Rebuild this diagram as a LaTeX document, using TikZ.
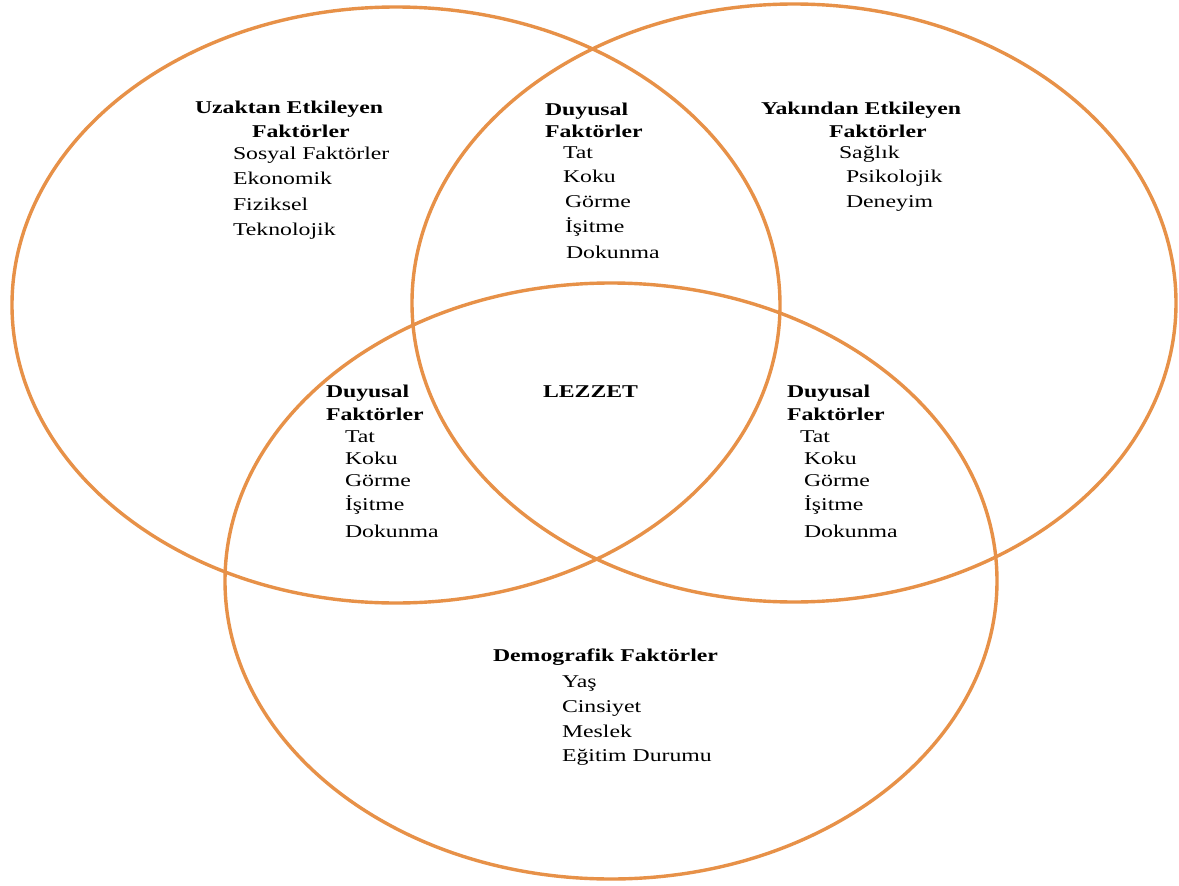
\documentclass[tikz,border=0pt]{standalone}
\usepackage{fontspec}
\setmainfont{Liberation Serif}[FakeStretch=1.32]
\definecolor{ringc}{RGB}{231,145,72}
\tikzset{
  ring/.style={draw=ringc, line width=3.4pt},
  txt/.style={anchor=base west, inner sep=0pt, outer sep=0pt, font=\fontsize{18}{22}\selectfont, text=black},
  hdr/.style={txt, font=\fontsize{18}{22}\selectfont\bfseries}
}
\begin{document}
\begin{tikzpicture}[x=1pt,y=-1pt]
\useasboundingbox[fill=white] (0,0) rectangle (1179,886);
% circles
\draw[ring] (396,305) ellipse [x radius=384pt, y radius=298pt];
\draw[ring] (794,303) ellipse [x radius=382pt, y radius=299pt];
\draw[ring] (611,581) ellipse [x radius=386pt, y radius=298pt];
% upper left
\node[hdr] (ulh1) at (195,113) {Uzaktan Etkileyen};
\node[hdr] (ulh2) at (252,137) {Faktörler};
\node[txt] (ul1) at (233,159) {Sosyal Faktörler};
\node[txt] (ul2) at (233,184) {Ekonomik};
\node[txt] (ul3) at (233,210) {Fiziksel};
\node[txt] (ul4) at (233,235) {Teknolojik};
% top middle
\node[hdr] (tmh1) at (545,115) {Duyusal};
\node[hdr] (tmh2) at (545,137) {Faktörler};
\node[txt] (tm1) at (563,158) {Tat};
\node[txt] (tm2) at (563,182) {Koku};
\node[txt] (tm3) at (565,207) {Görme};
\node[txt] (tm4) at (565,232) {İşitme};
\node[txt] (tm5) at (566,258) {Dokunma};
% upper right
\node[hdr] (urh1) at (761,114) {Yakından Etkileyen};
\node[hdr] (urh2) at (829,137) {Faktörler};
\node[txt] (ur1) at (839,158) {Sağlık};
\node[txt] (ur2) at (846,182) {Psikolojik};
\node[txt] (ur3) at (846,207) {Deneyim};
% middle left
\node[hdr] (mlh1) at (326,397) {Duyusal};
\node[hdr] (mlh2) at (326,420) {Faktörler};
\node[txt] (ml1) at (345,442) {Tat};
\node[txt] (ml2) at (345,464) {Koku};
\node[txt] (ml3) at (345,486) {Görme};
\node[txt] (ml4) at (345,510) {İşitme};
\node[txt] (ml5) at (345,537) {Dokunma};
% center
\node[hdr] (lez) at (543,397) {LEZZET};
% middle right
\node[hdr] (mrh1) at (787,397) {Duyusal};
\node[hdr] (mrh2) at (787,420) {Faktörler};
\node[txt] (mr1) at (800,442) {Tat};
\node[txt] (mr2) at (804,464) {Koku};
\node[txt] (mr3) at (804,486) {Görme};
\node[txt] (mr4) at (804,510) {İşitme};
\node[txt] (mr5) at (804,537) {Dokunma};
% bottom
\node[hdr] (bh) at (493,661) {Demografik Faktörler};
\node[txt] (b1) at (562,687) {Yaş};
\node[txt] (b2) at (562,712) {Cinsiyet};
\node[txt] (b3) at (562,737) {Meslek};
\node[txt] (b4) at (562,761) {Eğitim Durumu};
\end{tikzpicture}
\end{document}
